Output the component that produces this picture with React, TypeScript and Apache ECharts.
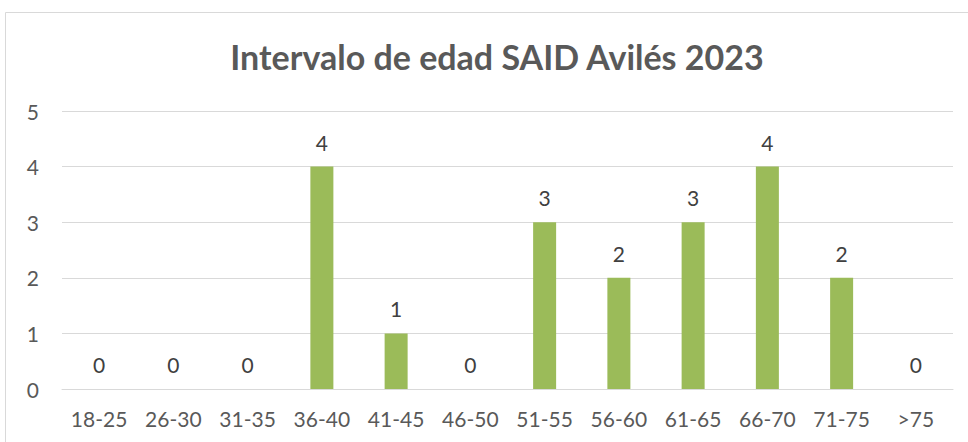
import React, { useEffect, useRef } from "react";
import * as echarts from "echarts";

const categories = ["18-25", "26-30", "31-35", "36-40", "41-45", "46-50", "51-55", "56-60", "61-65", "66-70", "71-75", ">75"];
const counts = [0, 0, 0, 4, 1, 0, 3, 2, 3, 4, 2, 0];
const titleText = "Intervalo de edad SAID Avilés 2023";

export default function App() {
  const ref = useRef<HTMLDivElement>(null);
  useEffect(() => {
    if (!ref.current) return;
    const chart = echarts.init(ref.current, null, { renderer: "svg" });
    chart.setOption({
      animation: false,
      backgroundColor: "#ffffff",
      textStyle: { fontFamily: "Lato" },
      title: {
        text: titleText,
        left: 492,
        top: 34,
        textAlign: "center",
        textStyle: { fontFamily: "Lato", fontWeight: "bold", fontSize: 34, color: "#595959" },
      },
      graphic: [
        {
          type: "rect",
          shape: { x: 5.5, y: 12.5, width: 1000, height: 500 },
          style: { fill: "none", stroke: "#d9d9d9", lineWidth: 1 },
          silent: true,
        },
      ],
      grid: { left: 62, right: 15, top: 111, bottom: 53, containLabel: false },
      xAxis: {
        type: "category",
        data: categories,
        axisLine: { show: true, lineStyle: { color: "#d9d9d9", width: 1 } },
        axisTick: { show: false },
        axisLabel: { color: "#595959", fontSize: 21, fontFamily: "Lato", margin: 19, interval: 0 },
      },
      yAxis: {
        type: "value",
        min: 0,
        max: 5,
        interval: 1,
        axisLine: { show: false },
        axisTick: { show: false },
        axisLabel: { color: "#595959", fontSize: 21, fontFamily: "Lato", margin: 23 },
        splitLine: { lineStyle: { color: "#d9d9d9", width: 1 } },
      },
      series: [
        {
          type: "bar",
          data: counts,
          barWidth: 23,
          itemStyle: { color: "#9bbb59" },
          label: {
            show: true,
            position: "top",
            distance: 14,
            color: "#404040",
            fontSize: 21,
            fontFamily: "Lato",
          },
        },
      ],
    });
    return () => chart.dispose();
  }, []);
  return <div ref={ref} style={{ position: "fixed", left: 0, top: 0, width: 968, height: 442 }} />;
}
